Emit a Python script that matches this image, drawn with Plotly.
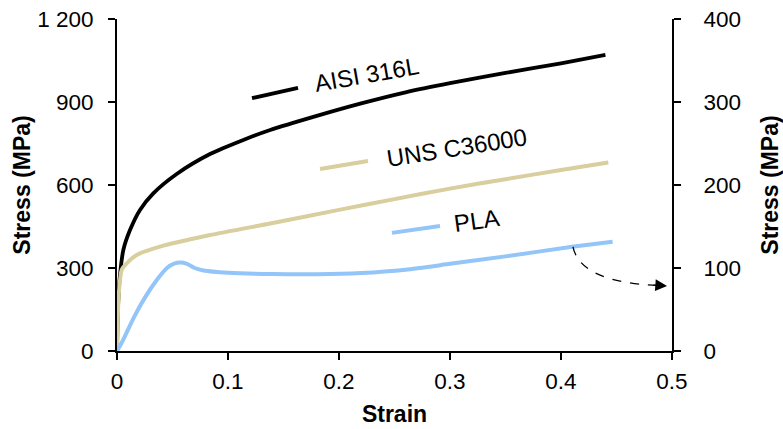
import plotly.graph_objects as go

# Engineering stress-strain curves
strain_316l = [0, 0.0006, 0.0015, 0.0027, 0.0057, 0.0117, 0.0207, 0.0327, 0.0538, 0.0838,
               0.1138, 0.138, 0.18, 0.22, 0.26, 0.30, 0.35, 0.40, 0.44]
stress_316l = [0, 120, 210, 275, 365, 437, 510, 570, 640, 712,
               763, 799, 850, 895, 935, 968, 1005, 1040, 1070]

strain_c36000 = [0, 0.0015, 0.0042, 0.0087, 0.0177, 0.0387, 0.0838, 0.138,
                 0.20, 0.25, 0.30, 0.35, 0.40, 0.4426]
stress_c36000 = [0, 200, 293, 317, 347, 377, 419, 461,
                 510, 549, 587, 621, 654, 681]

strain_pla = [0, 0.005, 0.015, 0.025, 0.035, 0.045, 0.052, 0.057, 0.063, 0.07,
              0.078, 0.10, 0.14, 0.18, 0.22, 0.26, 0.30, 0.35, 0.41, 0.4465]
stress_pla = [0, 12, 40, 64, 84, 100, 105.5, 106.5, 105, 100,
              97, 94.3, 92.7, 92.5, 94, 98, 105, 114, 125.5, 131.7]

left_ticks = [0, 300, 600, 900, 1200]
left_ticktext = ["0", "300", "600", "900", "1 200"]
right_ticks = [0, 100, 200, 300, 400]
x_ticks = [0, 0.1, 0.2, 0.3, 0.4, 0.5]
x_ticktext = ["0", "0.1", "0.2", "0.3", "0.4", "0.5"]

C_316L = "#000000"
C_BRASS = "#D8CE9E"
C_PLA = "#93C5F8"
FONT = "Liberation Sans, Arial, sans-serif"

fig = go.Figure()
fig.add_trace(go.Scatter(x=strain_316l, y=stress_316l, mode="lines", name="AISI 316L",
                         line=dict(color=C_316L, width=3.8, shape="spline", smoothing=0.7)))
fig.add_trace(go.Scatter(x=strain_c36000, y=stress_c36000, mode="lines", name="UNS C36000",
                         line=dict(color=C_BRASS, width=4, shape="spline", smoothing=0.6)))
fig.add_trace(go.Scatter(x=strain_pla, y=stress_pla, mode="lines", name="PLA", yaxis="y2",
                         line=dict(color=C_PLA, width=4, shape="spline", smoothing=0.6)))

# Inline labels: short line sample followed by rotated text
legend_items = [
    ("AISI 316L", C_316L, 3.8, (0.1216, 914), (0.1631, 951), (0.2252, 998), -10),
    ("UNS C36000", C_BRASS, 4, (0.1829, 658), (0.2261, 687), (0.3063, 737), -9),
    ("PLA", C_PLA, 4, (0.2477, 427), (0.291, 452), (0.3243, 470), -8),
]
shapes = []
annotations = []
for text, col, w, p0, p1, c, ang in legend_items:
    shapes.append(dict(type="line", xref="x", yref="y", x0=p0[0], y0=p0[1], x1=p1[0], y1=p1[1],
                       line=dict(color=col, width=w)))
    annotations.append(dict(x=c[0], y=c[1], xref="x", yref="y", text=text, showarrow=False,
                            textangle=ang, font=dict(family=FONT, size=24, color="#000")))

# Dashed pointer from the PLA curve to the secondary axis
shapes.append(dict(type="path", xref="x", yref="y",
                   path="M 0.4108 376.5 Q 0.4171 249 0.488 236.5",
                   line=dict(color="#000", width=1.3, dash="dash")))
annotations.append(dict(x=0.4955, y=235, xref="x", yref="y", ax=-15, ay=-1, text="",
                        showarrow=True, arrowhead=2, arrowsize=1.8, arrowwidth=1.3,
                        arrowcolor="#000"))

axis_common = dict(showline=True, linecolor="#000", linewidth=2, ticks="outside",
                   ticklen=7, tickwidth=2, tickcolor="#000", showgrid=False, zeroline=False,
                   automargin=False,
                   tickfont=dict(family=FONT, size=22.5, color="#000"))

title_font = dict(family=FONT, size=23, color="#000")

fig.update_layout(
    width=783, height=429,
    margin=dict(l=117, r=111, t=19, b=78, autoexpand=False),
    paper_bgcolor="white", plot_bgcolor="white",
    showlegend=False,
    shapes=shapes, annotations=annotations,
    xaxis=dict(range=[0, 0.5], tickvals=x_ticks, ticktext=x_ticktext,
               title=dict(text="<b>Strain</b>", font=title_font, standoff=13),
               ticklabelstandoff=2,
               **axis_common),
    yaxis=dict(range=[0, 1200], tickvals=left_ticks, ticktext=left_ticktext,
               title=dict(text="<b>Stress (MPa)</b>", font=title_font, standoff=0),
               ticklabelstandoff=10,
               **axis_common),
    yaxis2=dict(range=[0, 400], tickvals=right_ticks, overlaying="y", side="right",
                anchor="x",
                title=dict(text="<b>Stress (MPa)</b>", font=title_font, standoff=23),
                ticklabelstandoff=18,
                **axis_common),
)

fig.write_html("out.html")
